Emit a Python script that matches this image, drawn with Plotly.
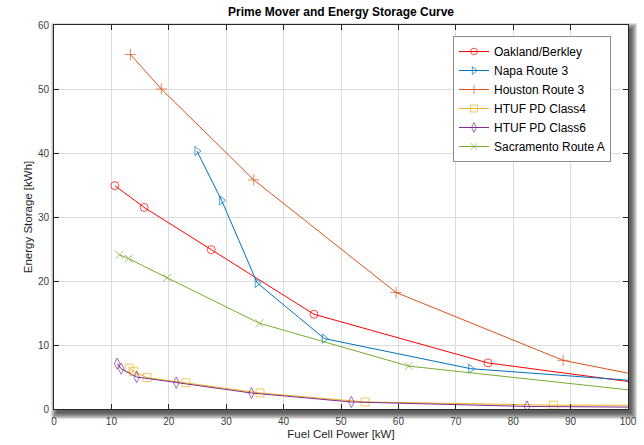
import plotly.graph_objects as go

# ---- data ----
oak_x = [10.6, 15.7, 27.4, 45.3, 75.6, 100]
oak_y = [34.9, 31.5, 24.9, 14.8, 7.2, 4.3]

napa_x = [24.9, 29.2, 35.4, 47.1, 72.6, 100]
napa_y = [40.3, 32.6, 19.7, 11.0, 6.3, 4.5]

hou_x = [13.3, 18.7, 34.8, 59.6, 88.7, 100]
hou_y = [55.4, 50.0, 35.8, 18.2, 7.6, 5.6]

c4_x = [13.1, 13.8, 16.2, 23.0, 35.9, 54.2, 87.0, 100]
c4_y = [6.4, 5.9, 4.9, 4.1, 2.5, 1.1, 0.6, 0.6]

c6_x = [11.0, 11.7, 14.4, 21.3, 34.4, 51.8, 82.4, 100]
c6_y = [7.1, 6.3, 5.0, 4.1, 2.5, 1.1, 0.4, 0.3]

sac_x = [11.4, 13.0, 19.7, 35.8, 61.8, 100]
sac_y = [24.1, 23.5, 20.5, 13.4, 6.7, 3.0]

x_ticks = [0, 10, 20, 30, 40, 50, 60, 70, 80, 90, 100]
y_ticks = [0, 10, 20, 30, 40, 50, 60]

series = [
    ("Oakland/Berkley", oak_x, oak_y, "#FF0000", "circle-open"),
    ("Napa Route 3", napa_x, napa_y, "#0072BD", "triangle-right-open"),
    ("Houston Route 3", hou_x, hou_y, "#D95319", "cross-thin-open"),
    ("HTUF PD Class4", c4_x, c4_y, "#EDB120", "square-open"),
    ("HTUF PD Class6", c6_x, c6_y, "#7E2F8E", "diamond-tall-open"),
    ("Sacramento Route A", sac_x, sac_y, "#77AC30", "x-thin-open"),
]

FONT = "Liberation Sans, Arial, sans-serif"
W, H = 644, 445
# axes box in window pixels: x 54..628, y 25..409
L, R, T, B = 54, 644 - 628, 25, 445 - 409

fig = go.Figure()
for name, xs, ys, col, sym in series:
    n = len(xs)
    sizes = [8] * (n - 1) + [0]  # last point is the edge of the axes (no marker)
    fig.add_trace(go.Scatter(
        x=xs, y=ys, name=name, mode="lines+markers",
        line=dict(color=col, width=1),
        marker=dict(symbol=sym, size=sizes, color=col, line=dict(color=col, width=1)),
    ))

pw, ph = W - L - R, H - T - B
def px(xw): return (xw - L) / pw
def py(yw): return (H - B - yw) / ph

shapes = []
# soft drop shadow behind the axes box
for e in [6, 5, 4, 3, 2, 1, 0]:
    shapes.append(dict(type="rect", xref="paper", yref="paper", layer="below",
                       x0=px(54 + 3 - e), x1=px(628 + 3 + e),
                       y0=py(409 + 4 + e), y1=py(25 + 4 - e),
                       fillcolor="rgba(0,0,0,0.13)", line=dict(width=0)))
shapes.append(dict(type="rect", xref="paper", yref="paper", layer="below",
                   x0=0, x1=1, y0=0, y1=1, fillcolor="white", line=dict(width=0)))

axis_common = dict(
    showgrid=True, gridcolor="#DCDCDC", gridwidth=1,
    showline=True, linecolor="#262626", linewidth=1, mirror="allticks",
    ticks="inside", ticklen=5, tickcolor="#262626",
    tickfont=dict(family=FONT, size=10, color="#404040"),
    zeroline=False, automargin=False,
)

fig.update_layout(
    width=W, height=H,
    margin=dict(l=L, r=R, t=T, b=B, autoexpand=False),
    paper_bgcolor="white", plot_bgcolor="rgba(0,0,0,0)",
    shapes=shapes,
    title=dict(text="<b>Prime Mover and Energy Storage Curve</b>",
               font=dict(family=FONT, size=12, color="#000000"),
               x=0.5, xref="paper", xanchor="center",
               y=1 - 12 / H, yref="container", yanchor="middle", automargin=False),
    xaxis=dict(range=[0, 100], tickvals=x_ticks, ticktext=[str(v) for v in x_ticks],
               ticklabelstandoff=3,
               title=dict(text="Fuel Cell Power [kW]", standoff=3,
                          font=dict(family=FONT, size=11.5, color="#262626")),
               **axis_common),
    yaxis=dict(range=[0, 60], tickvals=y_ticks, ticktext=[str(v) for v in y_ticks],
               ticklabelstandoff=2,
               title=dict(text="Energy Storage [kWh]", standoff=2,
                          font=dict(family=FONT, size=11.5, color="#262626")),
               **axis_common),
    legend=dict(x=px(453), y=py(36), xanchor="left", yanchor="top",
                bgcolor="white", bordercolor="#8C8C8C", borderwidth=1,
                font=dict(family=FONT, size=12, color="#000000"),
                tracegroupgap=0),
    showlegend=True,
)

fig.write_html("out.html",
               config={"displayModeBar": False},
               post_script="document.body.style.margin='0';document.body.style.overflow='hidden';")
